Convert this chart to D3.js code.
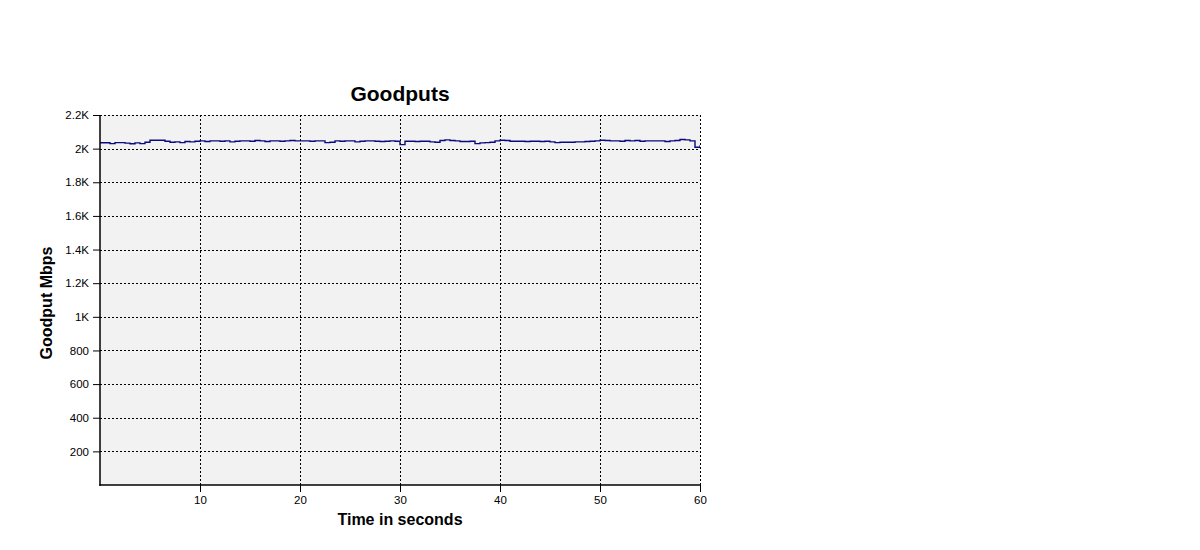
<!DOCTYPE html>
<html>
<head>
<meta charset="utf-8">
<script src="https://cdn.jsdelivr.net/npm/d3@7/dist/d3.min.js"></script>
<style>
  html, body { margin: 0; padding: 0; background: #ffffff; }
  svg { display: block; font-family: "Liberation Sans", Arial, sans-serif; }
</style>
</head>
<body>
<svg id="chart" width="1200" height="550"></svg>
<script>
// ---- data ----
const chartTitle = "Goodputs";
const xAxisTitle = "Time in seconds";
const yAxisTitle = "Goodput Mbps";

const xTickValues = [10, 20, 30, 40, 50, 60];
const xTickLabels = ["10", "20", "30", "40", "50", "60"];
const yTickValues = [200, 400, 600, 800, 1000, 1200, 1400, 1600, 1800, 2000, 2200];
const yTickLabels = ["200", "400", "600", "800", "1K", "1.2K", "1.4K", "1.6K", "1.8K", "2K", "2.2K"];

const timeSeconds = [
  0, 0.5, 1, 1.5, 2, 2.5, 3, 3.5, 4, 4.5, 5, 5.5, 6, 6.5, 7, 7.5, 8, 8.5, 9, 9.5,
  10, 10.5, 11, 11.5, 12, 12.5, 13, 13.5, 14, 14.5, 15, 15.5, 16, 16.5, 17, 17.5, 18, 18.5, 19, 19.5,
  20, 20.5, 21, 21.5, 22, 22.5, 23, 23.5, 24, 24.5, 25, 25.5, 26, 26.5, 27, 27.5, 28, 28.5, 29, 29.5,
  30, 30.5, 31, 31.5, 32, 32.5, 33, 33.5, 34, 34.5, 35, 35.5, 36, 36.5, 37, 37.5, 38, 38.5, 39, 39.5,
  40, 40.5, 41, 41.5, 42, 42.5, 43, 43.5, 44, 44.5, 45, 45.5, 46, 46.5, 47, 47.5, 48, 48.5, 49, 49.5,
  50, 50.5, 51, 51.5, 52, 52.5, 53, 53.5, 54, 54.5, 55, 55.5, 56, 56.5, 57, 57.5, 58, 58.5, 59, 59.5,
  60
];
const goodputMbps = [
  2035, 2035, 2030, 2036, 2036, 2033, 2029, 2034, 2030, 2038, 2050, 2050, 2050, 2044, 2038, 2040, 2036, 2042, 2040, 2044,
  2046, 2042, 2046, 2046, 2044, 2046, 2040, 2044, 2046, 2046, 2044, 2048, 2046, 2042, 2046, 2046, 2044, 2046, 2048, 2046,
  2046, 2046, 2044, 2046, 2046, 2036, 2038, 2046, 2044, 2046, 2046, 2040, 2044, 2046, 2046, 2044, 2042, 2044, 2046, 2044,
  2024, 2044, 2044, 2042, 2044, 2044, 2040, 2038, 2048, 2052, 2048, 2046, 2042, 2042, 2044, 2030, 2034, 2036, 2038, 2046,
  2050, 2048, 2044, 2044, 2044, 2042, 2044, 2044, 2042, 2044, 2040, 2036, 2038, 2038, 2038, 2040, 2040, 2042, 2044, 2046,
  2050, 2048, 2046, 2046, 2044, 2048, 2046, 2048, 2044, 2046, 2046, 2046, 2046, 2042, 2046, 2048, 2054, 2052, 2046, 2008,
  2020
];

// ---- layout ----
const svg = d3.select("#chart");
const plot = { left: 100, right: 700, top: 115, bottom: 485 };

const x = d3.scaleLinear().domain([0, 60]).range([plot.left, plot.right]);
const y = d3.scaleLinear().domain([0, 2200]).range([plot.bottom, plot.top]);

// background
svg.append("rect")
  .attr("x", plot.left).attr("y", plot.top)
  .attr("width", plot.right - plot.left).attr("height", plot.bottom - plot.top)
  .attr("fill", "#f2f2f2");

// grid
const grid = svg.append("g").attr("stroke", "#000").attr("stroke-width", 1)
  .attr("stroke-dasharray", "2,2").attr("shape-rendering", "crispEdges");
grid.selectAll("line.h").data(yTickValues).join("line")
  .attr("class", "h")
  .attr("x1", plot.left).attr("x2", plot.right)
  .attr("y1", d => Math.round(y(d)) + 0.5).attr("y2", d => Math.round(y(d)) + 0.5);
grid.selectAll("line.v").data(xTickValues).join("line")
  .attr("class", "v")
  .attr("y1", plot.top).attr("y2", plot.bottom)
  .attr("x1", d => Math.round(x(d)) + 0.5).attr("x2", d => Math.round(x(d)) + 0.5);

// clip
svg.append("clipPath").attr("id", "clip")
  .append("rect").attr("x", plot.left).attr("y", plot.top)
  .attr("width", plot.right - plot.left).attr("height", plot.bottom - plot.top);

// line
const pts = timeSeconds.map((t, i) => ({ t, v: goodputMbps[i] }));
const line = d3.line().x(d => x(d.t)).y(d => y(d.v)).curve(d3.curveStepAfter);
svg.append("path")
  .datum(pts)
  .attr("clip-path", "url(#clip)")
  .attr("fill", "none")
  .attr("stroke", "#0a0a80")
  .attr("stroke-width", 1.4)
  .attr("d", line);

// axes
const yAxis = d3.axisLeft(y)
  .tickValues(yTickValues)
  .tickFormat((d, i) => yTickLabels[i])
  .tickSize(7).tickSizeOuter(0).tickPadding(4);
const gy = svg.append("g").attr("transform", `translate(${plot.left},0)`).call(yAxis);
gy.select(".domain").remove();
gy.selectAll(".tick line").attr("stroke", "#000");
gy.selectAll("text").attr("font-size", 11.5).attr("fill", "#000");

const xAxis = d3.axisBottom(x)
  .tickValues(xTickValues)
  .tickFormat((d, i) => xTickLabels[i])
  .tickSize(7).tickSizeOuter(0).tickPadding(4);
const gx = svg.append("g").attr("transform", `translate(0,${plot.bottom})`).call(xAxis);
gx.select(".domain").remove();
gx.selectAll(".tick line").attr("stroke", "#000");
gx.selectAll("text").attr("font-size", 11.5).attr("fill", "#000");

// solid left and bottom axis lines
svg.append("line").attr("x1", plot.left).attr("x2", plot.left)
  .attr("y1", plot.top).attr("y2", plot.bottom + 0.75)
  .attr("stroke", "#000").attr("stroke-width", 1.5);
svg.append("line").attr("x1", plot.left - 0.75).attr("x2", plot.right)
  .attr("y1", plot.bottom).attr("y2", plot.bottom)
  .attr("stroke", "#000").attr("stroke-width", 1.5);

// titles
svg.append("text")
  .attr("x", 400).attr("y", 101)
  .attr("text-anchor", "middle")
  .attr("font-size", 21).attr("font-weight", "bold").attr("fill", "#000")
  .text(chartTitle);

svg.append("text")
  .attr("x", 400).attr("y", 525)
  .attr("text-anchor", "middle")
  .attr("font-size", 16).attr("font-weight", "bold").attr("fill", "#000")
  .text(xAxisTitle);

svg.append("text")
  .attr("transform", `translate(52,${(plot.top + plot.bottom) / 2 + 3}) rotate(-90)`)
  .attr("text-anchor", "middle")
  .attr("font-size", 16).attr("font-weight", "bold").attr("fill", "#000")
  .text(yAxisTitle);
</script>
</body>
</html>
